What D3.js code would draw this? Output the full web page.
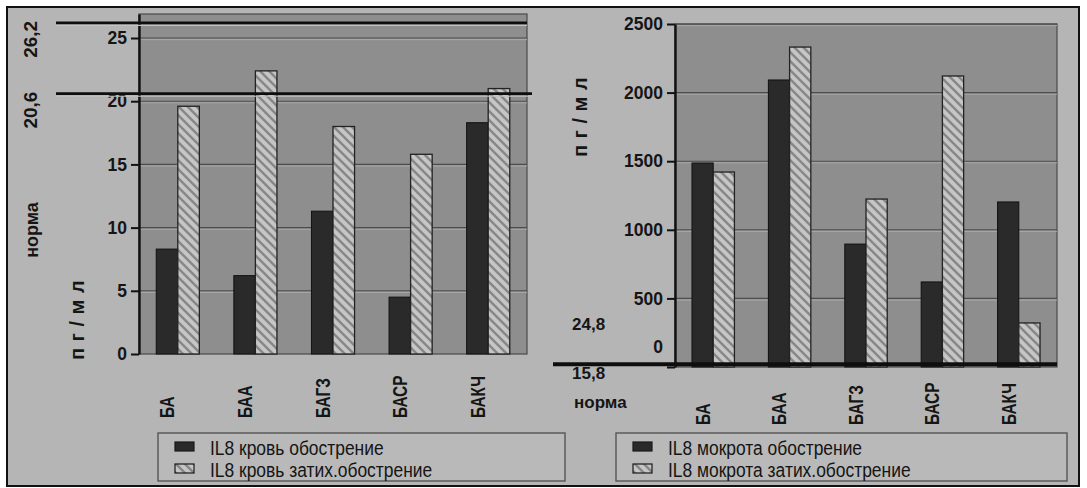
<!DOCTYPE html>
<html>
<head>
<meta charset="utf-8">
<script src="https://cdn.jsdelivr.net/npm/d3@7"></script>
<style>
  body { margin: 0; background: #fff; }
  svg { display: block; }
</style>
</head>
<body>
<svg id="chart" width="1087" height="488"></svg>
<script>
// IL8 levels by patient group
const categories = ["БА", "БАА", "БАГЗ", "БАСР", "БАКЧ"];

// Blood IL8, pg/ml
const bloodExacerbation = [8.3, 6.2, 11.3, 4.5, 18.3];
const bloodRemission    = [19.6, 22.4, 18.0, 15.8, 21.0];
const bloodTicks = [0, 5, 10, 15, 20, 25];
const bloodNorm = [26.2, 20.6];
const bloodLegend = ["IL8 кровь обострение", "IL8 кровь затих.обострение"];

// Sputum IL8, pg/ml
const sputumExacerbation = [1487, 2092, 896, 620, 1203];
const sputumRemission    = [1421, 2332, 1224, 2121, 321];
const sputumTicks = [0, 500, 1000, 1500, 2000, 2500];
const sputumNorm = [24.8, 15.8];
const sputumLegend = ["IL8 мокрота обострение", "IL8 мокрота затих.обострение"];

const unitLabel = "п г / м л";
const normLabel = "норма";

const fmtComma = v => String(v).replace(".", ",");

const INK = "#151515";
const PAGE = "#b5b5b5";
const PLOT = "#8e8e8e";
const DARK = "#2a2a2a";
const SANS = "'Liberation Sans', Arial, sans-serif";

const svg = d3.select("#chart");

// hatch pattern for the remission series
const defs = svg.append("defs");
const pat = defs.append("pattern")
  .attr("id", "hatch")
  .attr("patternUnits", "userSpaceOnUse")
  .attr("width", 9).attr("height", 9);
pat.append("rect").attr("width", 9).attr("height", 9).attr("fill", "#c6c6c6");
pat.append("path")
  .attr("d", "M0,0L9,9M-2,7L2,11M7,-2L11,2")
  .attr("stroke", "#888").attr("stroke-width", 2.5);

// page frame
svg.append("rect")
  .attr("x", 7).attr("y", 7).attr("width", 1072).attr("height", 479)
  .attr("fill", PAGE).attr("stroke", "#111").attr("stroke-width", 2);

function panel(cfg) {
  const g = svg.append("g");
  const { x0, x1, yTop, yBottom } = cfg;

  const y = d3.scaleLinear().domain([0, cfg.yMax]).range([yBottom, yTop]);
  const x = d3.scaleBand().domain(categories).range([x0, x1]);
  const sub = d3.scaleBand().domain(["exac", "rem"]).range([0, x.bandwidth()]).paddingOuter(0.8);

  // plot background
  g.append("rect")
    .attr("x", x0).attr("y", yTop).attr("width", x1 - x0).attr("height", yBottom - yTop)
    .attr("fill", PLOT).attr("stroke", "#4a4a4a").attr("stroke-width", 1.2);

  // gridlines with a light edge beneath
  const grid = cfg.ticks.filter(t => t > 0);
  g.selectAll(".gridHi").data(grid).join("line")
    .attr("x1", x0).attr("x2", x1)
    .attr("y1", d => y(d) + 1.6).attr("y2", d => y(d) + 1.6)
    .attr("stroke", "#a9a9a9").attr("stroke-width", 1);
  g.selectAll(".grid").data(grid).join("line")
    .attr("x1", x0).attr("x2", x1)
    .attr("y1", d => y(d)).attr("y2", d => y(d))
    .attr("stroke", "#4c4c4c").attr("stroke-width", 1.1);

  // bars
  const rows = categories.map((c, i) => ({ c, exac: cfg.exac[i], rem: cfg.rem[i] }));
  g.selectAll(".bExac").data(rows).join("rect")
    .attr("x", d => x(d.c) + sub("exac"))
    .attr("y", d => y(d.exac))
    .attr("width", sub.bandwidth())
    .attr("height", d => y(0) - y(d.exac))
    .attr("fill", DARK).attr("stroke", "#111").attr("stroke-width", 1);
  g.selectAll(".bRem").data(rows).join("rect")
    .attr("x", d => x(d.c) + sub("rem"))
    .attr("y", d => y(d.rem))
    .attr("width", sub.bandwidth())
    .attr("height", d => y(0) - y(d.rem))
    .attr("fill", "url(#hatch)").attr("stroke", "#222").attr("stroke-width", 1.3);

  // y axis
  const axis = g.append("g")
    .attr("transform", `translate(${x0},0)`)
    .call(d3.axisLeft(y).tickValues(cfg.ticks).tickFormat(d3.format("d"))
      .tickSize(8).tickSizeOuter(0).tickPadding(4));
  axis.select(".domain").attr("stroke", "#111").attr("stroke-width", 2.4);
  axis.selectAll(".tick line").attr("stroke", "#111").attr("stroke-width", 2);
  axis.selectAll(".tick text")
    .attr("fill", INK)
    .style("font-family", SANS).style("font-weight", "bold").style("font-size", "17.5px");

  // category labels, bottom-aligned, reading upward (condensed)
  g.selectAll(".cat").data(categories).join("text")
    .attr("transform", d => `translate(${x(d) + sub("exac") + sub.bandwidth() / 2},${cfg.labelBase}) rotate(-90) scale(0.73,1)`)
    .attr("text-anchor", "start")
    .attr("dominant-baseline", "central")
    .attr("fill", INK)
    .style("font-family", SANS).style("font-weight", "bold").style("font-size", "21px")
    .text(d => d);

  // legend
  const lg = g.append("g");
  lg.append("rect")
    .attr("x", cfg.legend.x).attr("y", 433).attr("width", cfg.legend.w).attr("height", 48)
    .attr("fill", "#b9b9b9").attr("stroke", "#555").attr("stroke-width", 1.4);
  const fills = [DARK, "url(#hatch)"];
  cfg.legendText.forEach((t, i) => {
    const cy = 446.5 + i * 22;
    lg.append("rect")
      .attr("x", cfg.legend.x + 17).attr("y", cy - 4.5).attr("width", 19).attr("height", 9)
      .attr("fill", fills[i]).attr("stroke", "#1a1a1a").attr("stroke-width", 1.2);
    lg.append("text")
      .attr("transform", `translate(${cfg.legend.x + 52},${cy + 1}) scale(0.83,1)`)
      .attr("dominant-baseline", "central")
      .attr("fill", INK)
      .style("font-family", SANS).style("font-size", "21px")
      .text(t);
  });

  return { g, x, y, axis };
}

// ---- blood panel ----
const left = panel({
  x0: 139, x1: 527, yTop: 14, yBottom: 354, yMax: 26.9,
  ticks: bloodTicks, exac: bloodExacerbation, rem: bloodRemission,
  labelBase: 418, legend: { x: 158, w: 407 }, legendText: bloodLegend
});

// norm range lines
bloodNorm.forEach((v, i) => {
  const yy = left.y(v);
  const xEnd = 527 + i * 5;
  left.g.append("line").attr("x1", 56).attr("x2", xEnd)
    .attr("y1", yy + 2.6).attr("y2", yy + 2.6)
    .attr("stroke", "#c2c2c2").attr("stroke-width", 1.2);
  left.g.append("line").attr("x1", 56).attr("x2", xEnd)
    .attr("y1", yy).attr("y2", yy)
    .attr("stroke", "#0e0e0e").attr("stroke-width", 2.6);
  left.g.append("text")
    .attr("transform", `translate(30,${yy - 2}) rotate(-90)`)
    .attr("text-anchor", "end")
    .attr("dominant-baseline", "central")
    .attr("fill", INK)
    .style("font-family", SANS).style("font-weight", "bold").style("font-size", "19px")
    .text(fmtComma(v));
});

left.g.append("text")
  .attr("transform", "translate(32,230) rotate(-90)")
  .attr("text-anchor", "middle").attr("dominant-baseline", "central")
  .attr("fill", INK)
  .style("font-family", SANS).style("font-weight", "bold").style("font-size", "18px")
  .text(normLabel);

left.g.append("text")
  .attr("transform", "translate(77,320) rotate(-90)")
  .attr("text-anchor", "middle").attr("dominant-baseline", "central")
  .attr("fill", INK)
  .style("font-family", SANS).style("font-weight", "bold").style("font-size", "20px")
  .style("letter-spacing", "0.5px")
  .text(unitLabel);

// ---- sputum panel ----
const right = panel({
  x0: 675, x1: 1057, yTop: 24, yBottom: 367, yMax: 2500,
  ticks: sputumTicks, exac: sputumExacerbation, rem: sputumRemission,
  labelBase: 425, legend: { x: 616, w: 451 }, legendText: sputumLegend
});

// zero label sits above the norm line
right.axis.selectAll(".tick").filter(d => d === 0).select("text").attr("y", -20);

sputumNorm.forEach(v => {
  const yy = right.y(v);
  right.g.append("line").attr("x1", 553).attr("x2", 1057)
    .attr("y1", yy).attr("y2", yy)
    .attr("stroke", "#0e0e0e").attr("stroke-width", 2.6);
});

right.g.append("text")
  .attr("x", 572).attr("y", right.y(sputumNorm[0]) - 34)
  .attr("fill", INK)
  .style("font-family", SANS).style("font-weight", "bold").style("font-size", "17px")
  .text(fmtComma(sputumNorm[0]));
right.g.append("text")
  .attr("x", 572).attr("y", right.y(sputumNorm[1]) + 14)
  .attr("fill", INK)
  .style("font-family", SANS).style("font-weight", "bold").style("font-size", "17px")
  .text(fmtComma(sputumNorm[1]));
right.g.append("text")
  .attr("x", 574).attr("y", right.y(sputumNorm[1]) + 43)
  .attr("fill", INK)
  .style("font-family", SANS).style("font-weight", "bold").style("font-size", "17px")
  .text(normLabel);

right.g.append("text")
  .attr("transform", "translate(580,117) rotate(-90)")
  .attr("text-anchor", "middle").attr("dominant-baseline", "central")
  .attr("fill", INK)
  .style("font-family", SANS).style("font-weight", "bold").style("font-size", "20px")
  .style("letter-spacing", "0.5px")
  .text(unitLabel);
</script>
</body>
</html>
